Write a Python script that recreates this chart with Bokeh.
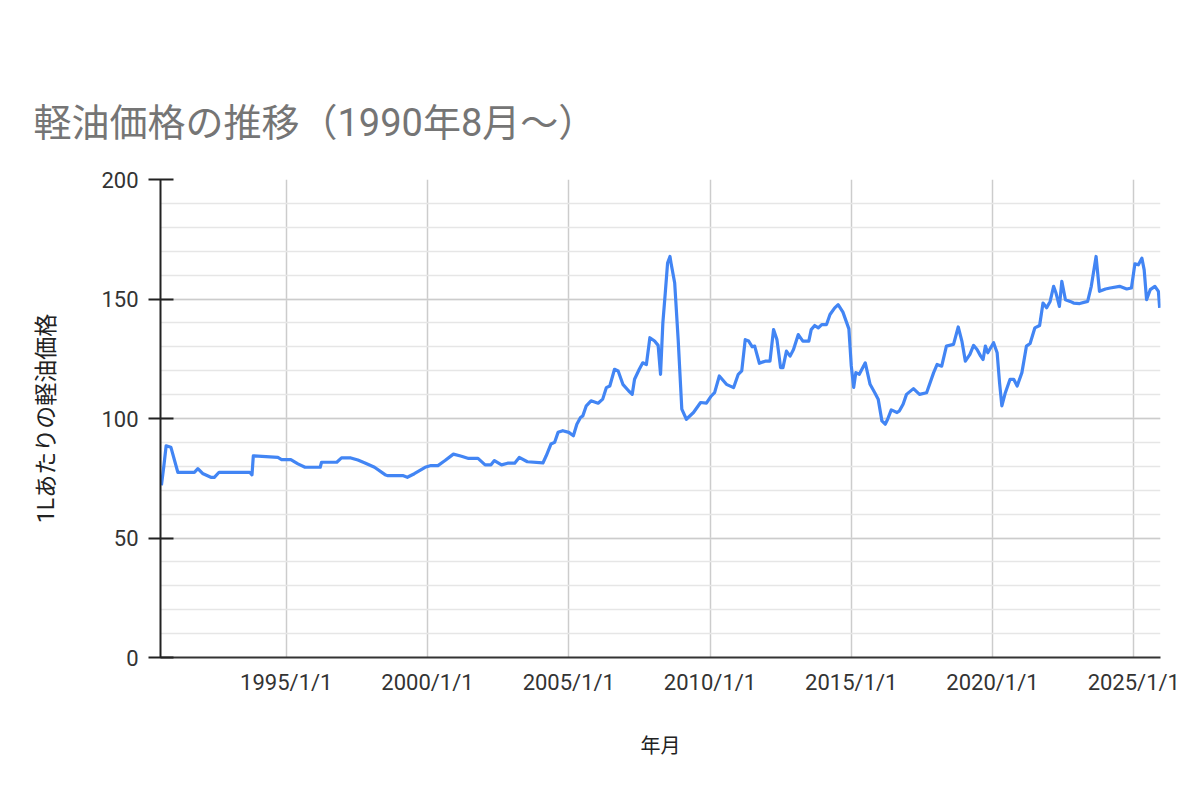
import pandas as pd
from bokeh.plotting import figure
from bokeh.models import Range1d, FixedTicker, SingleIntervalTicker, ColumnDataSource
from bokeh.embed import file_html
from bokeh.resources import INLINE

title_text = "軽油価格の推移（1990年8月～）"
x_label = "年月"
y_label = "1Lあたりの軽油価格"

dates = [
    "1990-08-01", "1990-09-01", "1990-10-01", "1990-12-01", "1991-03-01", "1991-10-01",
    "1991-11-15", "1992-01-15", "1992-05-01", "1992-06-15", "1992-08-15", "1993-09-15",
    "1993-10-15", "1993-11-01", "1994-09-15", "1994-11-01", "1995-03-01", "1995-06-01",
    "1995-09-01", "1996-03-15", "1996-04-01", "1996-10-15", "1996-12-15", "1997-04-15",
    "1997-07-15", "1997-10-15", "1998-02-15", "1998-07-01", "1998-08-01", "1999-02-15",
    "1999-04-15", "1999-07-15", "1999-12-01", "2000-02-15", "2000-05-15", "2000-08-15",
    "2000-12-01", "2001-03-15", "2001-06-15", "2001-10-15", "2002-01-15", "2002-04-01",
    "2002-05-15", "2002-08-15", "2002-11-01", "2003-02-01", "2003-04-01", "2003-07-15",
    "2004-02-01", "2004-03-15", "2004-05-15", "2004-07-01", "2004-08-15", "2004-10-15",
    "2005-01-01", "2005-03-01", "2005-04-15", "2005-06-01", "2005-07-01", "2005-08-15",
    "2005-10-15", "2006-01-15", "2006-03-15", "2006-05-01", "2006-06-15", "2006-08-15",
    "2006-10-01", "2006-12-01", "2007-02-15", "2007-04-01", "2007-05-01", "2007-07-01",
    "2007-08-15", "2007-10-01", "2007-11-15", "2008-01-15", "2008-03-01", "2008-04-01",
    "2008-05-01", "2008-06-01", "2008-07-01", "2008-08-01", "2008-08-15", "2008-10-01",
    "2008-11-15", "2009-01-01", "2009-03-01", "2009-06-01", "2009-09-01", "2009-11-15",
    "2010-01-15", "2010-03-01", "2010-05-01", "2010-08-01", "2010-11-01", "2011-01-01",
    "2011-02-15", "2011-04-01", "2011-05-15", "2011-07-01", "2011-08-01", "2011-10-01",
    "2011-12-15", "2012-02-15", "2012-04-01", "2012-05-15", "2012-07-01", "2012-08-01",
    "2012-09-15", "2012-11-01", "2012-12-15", "2013-02-15", "2013-04-15", "2013-07-01",
    "2013-08-01", "2013-09-15", "2013-11-01", "2013-12-15", "2014-02-15", "2014-04-01",
    "2014-06-01", "2014-07-15", "2014-09-15", "2014-12-01", "2015-01-01", "2015-02-01",
    "2015-03-01", "2015-04-15", "2015-07-01", "2015-09-01", "2015-11-01", "2015-12-15",
    "2016-02-01", "2016-03-15", "2016-04-15", "2016-06-01", "2016-08-15", "2016-09-15",
    "2016-11-01", "2016-12-15", "2017-03-15", "2017-06-01", "2017-09-01", "2017-12-01",
    "2018-01-15", "2018-03-15", "2018-05-15", "2018-08-15", "2018-10-15", "2018-12-01",
    "2019-01-15", "2019-03-15", "2019-05-01", "2019-06-15", "2019-08-01", "2019-09-01",
    "2019-10-01", "2019-11-01", "2020-01-15", "2020-03-01", "2020-04-01", "2020-05-01",
    "2020-06-15", "2020-08-15", "2020-10-01", "2020-11-15", "2021-01-15", "2021-03-15",
    "2021-05-01", "2021-07-01", "2021-09-01", "2021-10-15", "2021-12-01", "2022-01-15",
    "2022-03-01", "2022-04-01", "2022-05-15", "2022-06-15", "2022-08-01", "2022-10-01",
    "2022-11-15", "2023-02-01", "2023-05-15", "2023-07-01", "2023-09-01", "2023-10-15",
    "2024-01-01", "2024-03-01", "2024-07-01", "2024-10-01", "2024-12-01", "2025-01-15",
    "2025-03-01", "2025-04-15", "2025-05-15", "2025-06-15", "2025-08-01", "2025-10-01",
    "2025-11-15", "2025-12-01",
]

prices = [
    72.0, 80.0, 88.6, 88.0, 77.5, 77.5,
    79.0, 77.0, 75.4, 75.4, 77.5, 77.5,
    76.4, 84.4, 83.7, 82.8, 82.8, 81.0,
    79.6, 79.6, 81.7, 81.7, 83.5, 83.5,
    82.6, 81.4, 79.6, 76.5, 76.1, 76.1,
    75.4, 76.9, 79.6, 80.3, 80.3, 82.4,
    85.1, 84.2, 83.3, 83.3, 80.6, 80.6,
    82.4, 80.6, 81.3, 81.3, 83.7, 81.9,
    81.4, 84.4, 89.3, 90.0, 94.2, 94.9,
    94.2, 92.8, 97.6, 100.4, 101.1, 105.3,
    107.4, 106.4, 108.1, 112.9, 113.6, 120.6,
    119.9, 114.3, 111.5, 110.1, 116.4, 120.6,
    123.3, 122.6, 133.8, 132.4, 130.6, 118.5,
    140.0, 152.5, 165.0, 167.8, 165.0, 156.7,
    133.0, 103.9, 99.7, 102.5, 106.7, 106.4,
    109.4, 110.8, 117.8, 114.3, 112.9, 118.5,
    119.9, 133.0, 132.4, 130.0, 130.3, 123.1,
    124.0, 124.0, 137.2, 133.0, 121.3, 121.3,
    128.2, 126.1, 128.9, 135.1, 132.4, 132.4,
    137.2, 138.9, 137.9, 139.3, 139.3, 143.5,
    146.3, 147.6, 144.5, 137.5, 122.0, 113.0,
    119.2, 118.5, 123.3, 114.3, 110.8, 108.1,
    99.0, 97.6, 99.7, 103.6, 102.5, 103.2,
    106.0, 110.1, 112.5, 110.1, 110.8, 119.2,
    122.6, 121.9, 130.3, 131.0, 138.3, 132.4,
    124.0, 126.8, 130.6, 128.9, 126.1, 124.7,
    130.3, 127.5, 131.7, 127.5, 115.0, 105.3,
    110.8, 116.4, 116.4, 113.6, 119.2, 130.3,
    131.4, 137.9, 138.9, 148.3, 146.3, 149.0,
    155.3, 152.5, 146.9, 157.4, 149.7, 149.0,
    148.3, 148.1, 149.0, 155.3, 167.8, 153.2,
    154.2, 154.6, 155.3, 154.2, 154.6, 164.7,
    164.3, 167.1, 162.2, 149.7, 153.9, 155.3,
    153.2, 146.3,
]

x_tick_years = [1995, 2000, 2005, 2010, 2015, 2020, 2025]
x_tick_labels = ["1995/1/1", "2000/1/1", "2005/1/1", "2010/1/1", "2015/1/1", "2020/1/1", "2025/1/1"]

FONT = "Roboto, 'Noto Sans CJK JP', sans-serif"

src = ColumnDataSource(dict(date=pd.to_datetime(dates), price=prices))

epoch = pd.Timestamp("1970-01-01")
tick_ms = [float((pd.Timestamp(f"{y}-01-01") - epoch) / pd.Timedelta(milliseconds=1)) for y in x_tick_years]

p = figure(
    width=1184, height=784,
    x_axis_type="datetime",
    x_range=Range1d(pd.Timestamp("1990-07-20"), pd.Timestamp("2025-12-12")),
    y_range=Range1d(0, 200),
    output_backend="svg", toolbar_location=None,
    min_border_left=160, min_border_right=24, min_border_top=179, min_border_bottom=127,
    title=title_text,
)
p.outline_line_color = None
p.background_fill_color = "white"
p.border_fill_color = "white"

p.title.text_font = FONT
p.title.text_font_size = "38px"
p.title.text_font_style = "normal"
p.title.text_color = "#757575"
p.title.offset = -127
p.title.standoff = 69

# x axis
p.xaxis.ticker = FixedTicker(ticks=tick_ms)
p.xaxis.major_label_overrides = {t: lab for t, lab in zip(tick_ms, x_tick_labels)}
p.xaxis.axis_label = x_label
p.xaxis.axis_label_text_font = FONT
p.xaxis.axis_label_text_font_size = "20px"
p.xaxis.axis_label_text_font_style = "normal"
p.xaxis.axis_label_text_color = "#222222"
p.xaxis.axis_label_standoff = 36
p.xaxis.major_label_text_font = FONT
p.xaxis.major_label_text_font_size = "22px"
p.xaxis.major_label_text_color = "#333333"
p.xaxis.major_label_standoff = 12
p.xaxis.major_tick_in = 0
p.xaxis.major_tick_out = 0
p.xaxis.minor_tick_line_color = None
p.xaxis.axis_line_color = "#333333"
p.xaxis.axis_line_width = 2

# y axis
p.yaxis.ticker = SingleIntervalTicker(interval=50, num_minor_ticks=5)
p.yaxis.axis_label = y_label
p.yaxis.axis_label_text_font = FONT
p.yaxis.axis_label_text_font_size = "23px"
p.yaxis.axis_label_text_font_style = "normal"
p.yaxis.axis_label_text_color = "#222222"
p.yaxis.axis_label_standoff = 38
p.yaxis.major_label_text_font = FONT
p.yaxis.major_label_text_font_size = "22px"
p.yaxis.major_label_text_color = "#333333"
p.yaxis.major_label_standoff = 10
p.yaxis.major_tick_in = 13
p.yaxis.major_tick_out = 12
p.yaxis.major_tick_line_width = 2
p.yaxis.major_tick_line_color = "#222222"
p.yaxis.minor_tick_line_color = None
p.yaxis.axis_line_color = "#222222"
p.yaxis.axis_line_width = 2

# grids
p.xgrid.ticker = FixedTicker(ticks=tick_ms)
p.xgrid.grid_line_color = "#cccccc"
p.xgrid.grid_line_width = 1.5
p.ygrid.grid_line_color = "#cccccc"
p.ygrid.grid_line_width = 1.5
p.ygrid.minor_grid_line_color = "#e6e6e6"
p.ygrid.minor_grid_line_width = 1.5

p.line("date", "price", source=src, line_color="#4285F4", line_width=3.2, line_join="round")

open("out.html", "w").write(file_html(p, INLINE))
